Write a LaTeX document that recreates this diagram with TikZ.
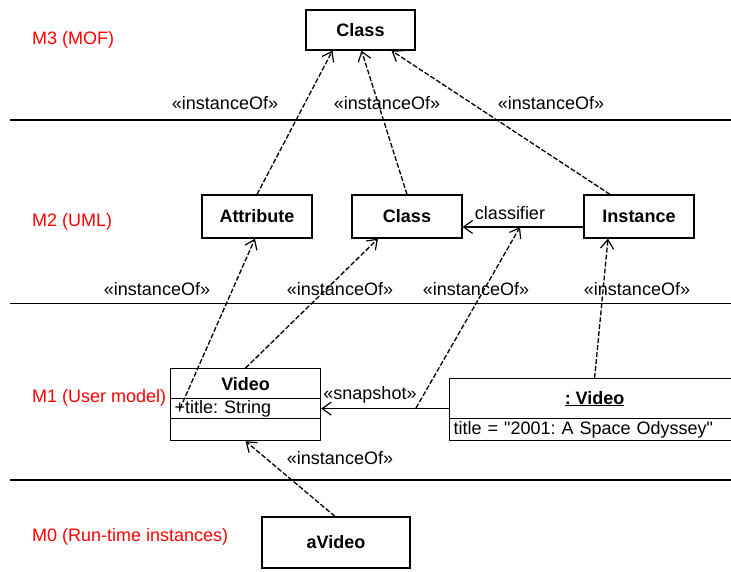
\documentclass[tikz,border=0pt]{standalone}
\usepackage{fontspec}
\setmainfont{Liberation Sans}
\usetikzlibrary{arrows.meta,positioning}

\newcommand\dquote{\XeTeXglyph\XeTeXcharglyph"22\relax}

\tikzset{
  box/.style={draw,line width=1.2pt,minimum width=110pt,minimum height=43pt,inner sep=0pt,font=\bfseries},
  comp/.style={draw,line width=1.2pt,inner sep=0pt,anchor=north west},
  level/.style={text=red,anchor=west,inner sep=0pt},
  inst/.style={dash pattern=on 5pt off 2pt,line width=1.3pt,-{Straight Barb[length=9pt,width=13pt,line width=1.2pt]}},
  snap/.style={line width=1pt,-{Straight Barb[length=9pt,width=13pt,line width=1.2pt]}},
  classif/.style={line width=2pt,-{Straight Barb[length=9pt,width=13pt,line width=1.2pt]}},
  stereo/.style={inner sep=0pt}
}

\begin{document}
\fontsize{18}{21}\selectfont\frenchspacing
\begin{tikzpicture}[x=1pt,y=-1pt]
    \path[use as bounding box,fill=white] (0,0) rectangle (731,571);
    \clip (0,0) rectangle (731,571);

    \draw[line width=2pt] (10,120) -- (731,120);
    \draw[line width=1pt] (10,303) -- (731,303);
    \draw[line width=2pt] (10,480) -- (731,480);

    \node at (32,40) [level] (m3) {M3 (MOF)};
    \node at (32,222) [level] (m2) {M2 (UML)};
    \node at (32,398) [level] (m1) {M1 (User model)};
    \node at (32,537) [level] (m0) {M0 (Run-time instances)};

    \node at (360.5,30) [box,minimum width=109pt,minimum height=40pt] (mofclass) {Class};

    \node at (257,216.5) [box] (attribute) {Attribute};
    \node at (407,216.5) [box] (umlclass) {Class};
    \node at (639,216.5) [box] (instance) {Instance};

    \node at (170,368) [comp,minimum width=150pt,minimum height=30pt,font=\bfseries] (videoname) {Video};
    \node at (170,398) [comp,minimum height=20pt,text width=142pt,inner xsep=4pt,align=left] (videoattr) {+title: String};
    \node at (170,418) [comp,minimum width=150pt,minimum height=22pt] (videoempty) {};

    \node at (449,378) [comp,minimum width=290pt,minimum height=40pt,font=\bfseries] (objname) {\underline{: Video}};
    \node at (449,418) [comp,minimum height=22pt,text width=282pt,inner xsep=4pt,align=left] (objvalue) {title = \dquote 2001: A Space Odyssey\dquote};

    \node at (336,542.5) [box,minimum width=148pt,minimum height=51pt] (avideo) {aVideo};

    \node at (225,103) [stereo] (io1) {«instanceOf»};
    \node at (387,103) [stereo] (io2) {«instanceOf»};
    \node at (551,103) [stereo] (io3) {«instanceOf»};
    \node at (157,289) [stereo] (io4) {«instanceOf»};
    \node at (340,289) [stereo] (io5) {«instanceOf»};
    \node at (476,289) [stereo] (io6) {«instanceOf»};
    \node at (637,289) [stereo] (io7) {«instanceOf»};
    \node at (340,458) [stereo] (io8) {«instanceOf»};
    \node at (370,395) [stereo] (snaplabel) {«snapshot»};
    \node at (510,213) [stereo] (classlabel) {classifier};

    \draw[inst] (attribute.north) -- ([xshift=-28pt]mofclass.south);
    \draw[inst] (umlclass.north) -- ([xshift=1pt]mofclass.south);
    \draw[inst] ([xshift=-29pt]instance.north) -- ([xshift=31pt]mofclass.south);

    \draw[classif] ([yshift=-10.5pt]instance.west) -- ([yshift=-10.5pt]umlclass.east);
    \coordinate (clsmid) at (520,227);

    \draw[inst] ([xshift=10pt]videoattr.west) -- ([xshift=-2pt]attribute.south);
    \draw[inst] (videoname.north) -- ([xshift=-29pt]umlclass.south);
    \draw[inst] (objname.north) -- ([xshift=-31pt]instance.south);

    \draw[snap] (objname.west |- videoattr.east) -- (videoattr.east);
    \coordinate (snapmid) at (416,408);
    \draw[inst] (snapmid) -- (clsmid);

    \draw[inst] ([xshift=-1pt]avideo.north) -- (videoempty.south);
\end{tikzpicture}
\end{document}
